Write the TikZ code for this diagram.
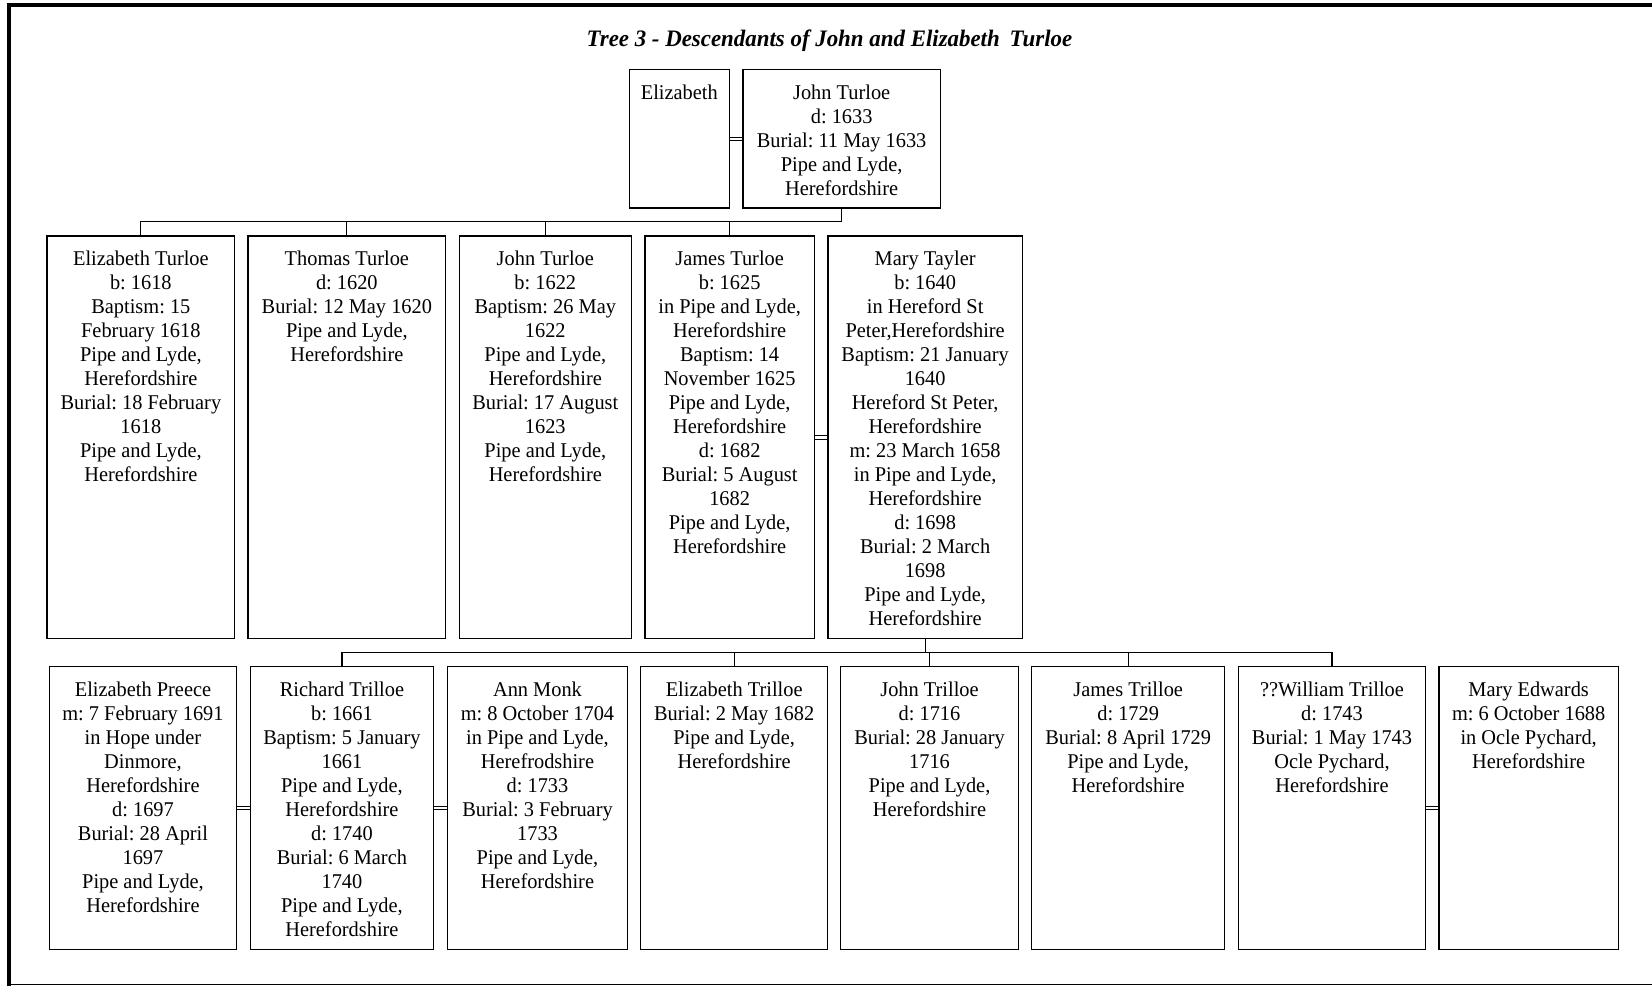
\documentclass[tikz,border=0pt]{standalone}
\usepackage{fontspec}
\setmainfont{Liberation Serif}[FakeStretch=0.97]
\usetikzlibrary{calc}
\frenchspacing
\newcommand{\firstln}{\rule{0pt}{15pt}}
\newcommand{\person}[6]{%
  \node[pbox, minimum width=#4pt, minimum height=#5pt] (#1) at (#2,#3) {};
  \node[ptext] (#1-t) at ([yshift=-14.7pt]#1.north) {\firstln #6};
}
\tikzset{
  pbox/.style={draw, line width=1.2pt, inner sep=0pt, outer sep=0pt, anchor=north west, fill=white},
  ptext/.style={anchor=north, align=center, inner sep=0pt, font=\fontsize{21}{24}\selectfont},
  conn/.style={line width=1.2pt},
  marr/.style={line width=0.9pt},
  frame/.style={line width=4pt},
}
\begin{document}
\begin{tikzpicture}[x=1pt,y=-1pt]
\useasboundingbox (0,0) rectangle (1652,986);
% outer frame
\draw[frame] (8.7,3.3) -- (8.7,986);
\draw[frame] (6.7,5.2) -- (1652,5.2);
\draw[line width=1.2pt] (8.7,984.3) -- (1652,984.3);
% title
\node[anchor=base, inner sep=0pt, font=\fontsize{23.6}{28}\selectfont\bfseries\itshape] (title) at (829.5,46.7) {Tree 3 - Descendants of John and Elizabeth\hspace{4pt} Turloe};
% generation 1
\person{eliz}{629.3}{69.3}{100}{138.7}{Elizabeth}
\person{john}{743}{69.3}{197.3}{138.7}{John Turloe\\d: 1633\\Burial: 11 May 1633\\Pipe and Lyde,\\Herefordshire}
% generation 2
\person{et}{47}{236}{187.7}{402.7}{Elizabeth Turloe\\b: 1618\\Baptism: 15\\February 1618\\Pipe and Lyde,\\Herefordshire\\Burial: 18 February\\1618\\Pipe and Lyde,\\Herefordshire}
\person{tt}{248}{236}{197.7}{402.7}{Thomas Turloe\\d: 1620\\Burial: 12 May 1620\\Pipe and Lyde,\\Herefordshire}
\person{jt}{459.3}{236}{172}{402.7}{John Turloe\\b: 1622\\Baptism: 26 May\\1622\\Pipe and Lyde,\\Herefordshire\\Burial: 17 August\\1623\\Pipe and Lyde,\\Herefordshire}
\person{jat}{645}{236}{169.3}{402.7}{James Turloe\\b: 1625\\in Pipe and Lyde,\\Herefordshire\\Baptism: 14\\November 1625\\Pipe and Lyde,\\Herefordshire\\d: 1682\\Burial: 5 August\\1682\\Pipe and Lyde,\\Herefordshire}
\person{mt}{828}{236}{194.3}{402.7}{Mary Tayler\\b: 1640\\in Hereford St\\Peter,Herefordshire\\Baptism: 21 January\\1640\\Hereford St Peter,\\Herefordshire\\m: 23 March 1658\\in Pipe and Lyde,\\Herefordshire\\d: 1698\\Burial: 2 March\\1698\\Pipe and Lyde,\\Herefordshire}
% generation 3
\person{ep}{49.4}{666.7}{187.2}{282.6}{Elizabeth Preece\\m: 7 February 1691\\in Hope under\\Dinmore,\\Herefordshire\\d: 1697\\Burial: 28 April\\1697\\Pipe and Lyde,\\Herefordshire}
\person{rt}{250.4}{666.7}{183.1}{282.6}{Richard Trilloe\\b: 1661\\Baptism: 5 January\\1661\\Pipe and Lyde,\\Herefordshire\\d: 1740\\Burial: 6 March\\1740\\Pipe and Lyde,\\Herefordshire}
\person{am}{447.8}{666.7}{179.4}{282.6}{Ann Monk\\m: 8 October 1704\\in Pipe and Lyde,\\Herefrodshire\\d: 1733\\Burial: 3 February\\1733\\Pipe and Lyde,\\Herefordshire}
\person{etr}{640.6}{666.7}{187.1}{282.6}{Elizabeth Trilloe\\Burial: 2 May 1682\\Pipe and Lyde,\\Herefordshire}
\person{jtr}{840.7}{666.7}{177.6}{282.6}{John Trilloe\\d: 1716\\Burial: 28 January\\1716\\Pipe and Lyde,\\Herefordshire}
\person{jatr}{1031.7}{666.7}{193}{282.6}{James Trilloe\\d: 1729\\Burial: 8 April 1729\\Pipe and Lyde,\\Herefordshire}
\person{wt}{1238.7}{666.7}{186.6}{282.6}{??William Trilloe\\d: 1743\\Burial: 1 May 1743\\Ocle Pychard,\\Herefordshire}
\person{me}{1439}{666.7}{179.3}{282.6}{Mary Edwards\\m: 6 October 1688\\in Ocle Pychard,\\Herefordshire}
% marriages
\foreach \a/\b in {eliz/john, jat/mt, ep/rt, rt/am, wt/me}{
  \draw[marr] ([yshift=1.7pt]\a.east) -- ([yshift=1.7pt]\b.west);
  \draw[marr] ([yshift=-1.7pt]\a.east) -- ([yshift=-1.7pt]\b.west);
}
% descent gen1 -> gen2
\coordinate (b1) at ($(john.south)+(0,13.7)$);
\draw[conn] (john.south) -- (b1);
\foreach \c in {et, tt, jt, jat}{ \draw[conn] (b1) -| (\c.north); }
% descent gen2 -> gen3
\coordinate (b2) at ($(mt.south)+(0,14)$);
\draw[conn] (mt.south) -- (b2);
\foreach \c in {rt, etr, jtr, jatr, wt}{ \draw[conn] (b2) -| (\c.north); }
\end{tikzpicture}
\end{document}
